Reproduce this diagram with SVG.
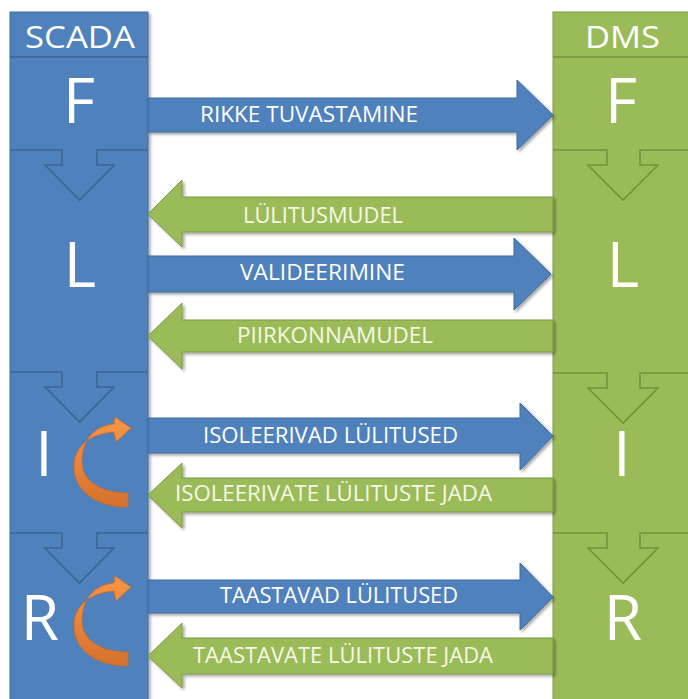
<svg xmlns="http://www.w3.org/2000/svg" width="688" height="699" viewBox="0 0 688 699">
  <defs>
    <filter id="shadow" x="-5%" y="-20%" width="115%" height="150%">
      <feDropShadow dx="2" dy="2" stdDeviation="1.6" flood-color="#000" flood-opacity="0.35"/>
    </filter>
    <linearGradient id="orange" x1="0" y1="0" x2="0" y2="1">
      <stop offset="0" stop-color="#f79646"/>
      <stop offset="0.55" stop-color="#e8823a"/>
      <stop offset="1" stop-color="#d4712c"/>
    </linearGradient>
    <!-- curved loop arrow, drawn once and reused in two sections -->
    <path id="loop" d="M128,493 L128,507 C102,508 74,494 74,467 C74,446 90,434 114,432 L116,442 L131,428 L115,417 L114,424 C93,426 82,441 82,462 C82,481 101,493 128,493 Z"/>
  </defs>
  <style>
    .scada { fill: #4f81bd; stroke: #41719c; stroke-width: 1; }
    .dms { fill: #9bbb59; stroke: #7f9a48; stroke-width: 1; }
    .sline { fill: none; stroke: #3b6591; stroke-width: 1.6; }
    .dline { fill: none; stroke: #76923c; stroke-width: 1.6; }
    .head { font-family: "Open Sans", "Liberation Sans", sans-serif; font-size: 31px; fill: #ffffff; }
    .big { font-family: "Open Sans", "Liberation Sans", sans-serif; font-size: 62px; fill: #ffffff; text-anchor: middle; }
    .ab { fill: #4f81bd; stroke: #3d6a9c; stroke-width: 1; filter: url(#shadow); }
    .ag { fill: #9bbb59; stroke: #7c9a44; stroke-width: 1; filter: url(#shadow); }
    .lbl { font-family: "Open Sans", "Liberation Sans", sans-serif; font-size: 21px; fill: #ffffff; }
    .lblg { font-family: "Open Sans", "Liberation Sans", sans-serif; font-size: 21px; fill: #f6f8e6; }
    .loop { fill: url(#orange); stroke: #c96a25; stroke-width: 0.8; }
  </style>

  <rect width="688" height="699" fill="#ffffff"/>

  <!-- SCADA column -->
  <g id="scada">
    <rect class="scada" x="10" y="12" width="138" height="700" filter="url(#shadow)"/>
    <line class="sline" x1="10" y1="57" x2="148" y2="57"/>
    <text class="head" x="25" y="48" textLength="110" lengthAdjust="spacingAndGlyphs">SCADA</text>
    <path class="sline" d="M10,150 H62 V165 H45 L79.5,200 L114,165 H97 V150 H148"/>
    <path class="sline" d="M10,372 H62 V387 H45 L79.5,422 L114,387 H97 V372 H148"/>
    <path class="sline" d="M10,533 H62 V548 H45 L79.5,583 L114,548 H97 V533 H148"/>
    <text class="big" x="79" y="123" font-size="52">F</text>
    <text class="big" x="80" y="287">L</text>
    <text class="big" x="44" y="476">I</text>
    <text class="big" x="40" y="640">R</text>
    <use href="#loop" class="loop"/>
    <use href="#loop" class="loop" transform="translate(0,159)"/>
  </g>

  <!-- DMS column -->
  <g id="dms">
    <rect class="dms" x="553" y="12" width="138" height="700"/>
    <line class="dline" x1="553" y1="57" x2="691" y2="57"/>
    <text class="head" x="585" y="48" textLength="75" lengthAdjust="spacingAndGlyphs">DMS</text>
    <path class="dline" d="M553,150 H607 V165 H588 L623,200 L658,165 H640 V150 H691"/>
    <path class="dline" d="M553,373 H607 V388 H588 L623,423 L658,388 H640 V373 H691"/>
    <path class="dline" d="M553,533 H607 V548 H588 L623,583 L658,548 H640 V533 H691"/>
    <text class="big" x="621" y="123" font-size="52">F</text>
    <text class="big" x="623" y="287">L</text>
    <text class="big" x="622" y="476">I</text>
    <text class="big" x="623" y="640">R</text>
  </g>

  <!-- messages between the two systems -->
  <g id="connectors">
    <g id="rikke">
      <polygon class="ab" points="148,98 517,98 517,80 553,115 517,150 517,132 148,132"/>
      <text class="lbl" x="200" y="122" textLength="218" lengthAdjust="spacingAndGlyphs">RIKKE TUVASTAMINE</text>
    </g>
    <g id="lylitusmudel">
      <polygon class="ag" points="553,197 182,197 182,180 148,214 182,247 182,232 553,232"/>
      <text class="lblg" x="243" y="223" textLength="160" lengthAdjust="spacingAndGlyphs">LÜLITUSMUDEL</text>
    </g>
    <g id="valideerimine">
      <polygon class="ab" points="148,256 514,256 514,238 551,274 514,310 514,292 148,292"/>
      <text class="lbl" x="240" y="280" textLength="165" lengthAdjust="spacingAndGlyphs">VALIDEERIMINE</text>
    </g>
    <g id="piirkonnamudel">
      <polygon class="ag" points="553,320 182,320 182,303 148,336 182,369 182,352 553,352"/>
      <text class="lblg" x="237" y="343" textLength="196" lengthAdjust="spacingAndGlyphs">PIIRKONNAMUDEL</text>
    </g>
    <g id="isoleerivad">
      <polygon class="ab" points="148,418 520,418 520,403 553,436 520,470 520,453 148,453"/>
      <text class="lbl" x="203" y="443" textLength="255" lengthAdjust="spacingAndGlyphs">ISOLEERIVAD LÜLITUSED</text>
    </g>
    <g id="isoleerivate-jada">
      <polygon class="ag" points="553,478 182,478 182,463 148,495 182,528 182,512 553,512"/>
      <text class="lblg" x="175" y="501" textLength="317" lengthAdjust="spacingAndGlyphs">ISOLEERIVATE LÜLITUSTE JADA</text>
    </g>
    <g id="taastavad">
      <polygon class="ab" points="148,580 520,580 520,563 553,597 520,630 520,613 148,613"/>
      <text class="lbl" x="220" y="603" textLength="238" lengthAdjust="spacingAndGlyphs">TAASTAVAD LÜLITUSED</text>
    </g>
    <g id="taastavate-jada">
      <polygon class="ag" points="553,638 182,638 182,623 148,656 182,688 182,674 553,674"/>
      <text class="lblg" x="193" y="663" textLength="300" lengthAdjust="spacingAndGlyphs">TAASTAVATE LÜLITUSTE JADA</text>
    </g>
  </g>
</svg>
